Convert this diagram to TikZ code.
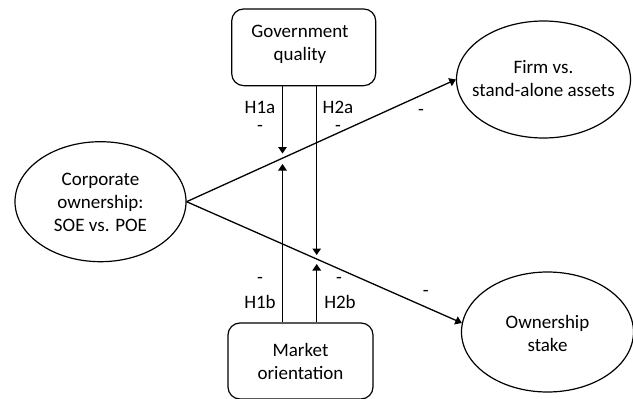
\documentclass[tikz,border=0pt]{standalone}
\usepackage{fontspec}
\setmainfont{Carlito}
\usetikzlibrary{shapes.geometric,arrows.meta}
\tikzset{
  box/.style={draw, rounded corners=12pt, line width=1.2pt, inner sep=0pt},
  oval/.style={draw, ellipse, line width=1.2pt, inner sep=0pt},
  txt/.style={align=center, inner sep=0pt, font=\fontsize{19}{23}\selectfont},
  conn/.style={line width=1.3pt, -{Triangle[length=6.5pt,width=8.5pt]}},
}
\begin{document}
\begin{tikzpicture}[x=1pt,y=-1pt]
\useasboundingbox (0,0) rectangle (633,399);
% boxes
\node[box, minimum width=144pt, minimum height=76.7pt] (gov) at (303.7,47.3) {};
\node[txt] at (300,44) {Government\\quality};
\node[box, minimum width=145pt, minimum height=76pt] (mkt) at (300.5,361) {};
\node[txt] at (300.5,361) {Market\\orientation};
% ellipses
\node[oval, minimum width=171pt, minimum height=120pt] (corp) at (100.5,201.7) {};
\node[txt] at (100.5,202.5) {Corporate\\ownership:\\SOE vs. POE};
\node[oval, minimum width=174pt, minimum height=117pt] (firm) at (543.5,79.5) {};
\node[txt] at (543.5,79) {Firm vs.\\stand-alone assets};
\node[oval, minimum width=172pt, minimum height=120pt] (own) at (547.5,332) {};
\node[txt] at (547.5,333.5) {Ownership\\stake};
% meeting points
\coordinate (m1) at (282.5,158.5);
\coordinate (m2) at (316.7,259.5);
% main arrows
\draw[conn] (corp.east) -- (firm.west);
\draw[conn] (corp.east) -- (own.174);
% moderating arrows
\draw[conn] (gov.south -| m1) -- ([yshift=5pt]m1);
\draw[conn] (mkt.north -| m1) -- ([yshift=-5.5pt]m1);
\draw[conn] (gov.south -| m2) -- ([yshift=4.5pt]m2);
\draw[conn] (mkt.north -| m2) -- ([yshift=-4.5pt]m2);
% labels
\node[txt] (l1a) at (260,107.5) {H1a};
\node[txt] (d1a) at (260,128.5) {-};
\node[txt] (l2a) at (338,107.5) {H2a};
\node[txt] (d2a) at (338,128.5) {-};
\node[txt] (d1b) at (260,280.5) {-};
\node[txt] (l1b) at (260,302) {H1b};
\node[txt] (d2b) at (339,280.5) {-};
\node[txt] (l2b) at (340,302) {H2b};
\node[txt] (dup) at (421,112) {-};
\node[txt] (dlo) at (425.7,293.3) {-};
\end{tikzpicture}
\end{document}
